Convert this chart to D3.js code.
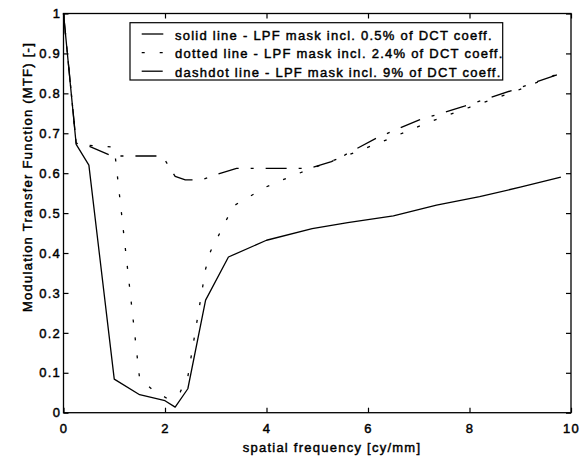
<!DOCTYPE html>
<html>
<head>
<meta charset="utf-8">
<script src="https://cdnjs.cloudflare.com/ajax/libs/d3/7.8.5/d3.min.js"></script>
<style>
    body { margin: 0; background: #ffffff; }
    text {
        font-family: "Liberation Sans", Arial, Helvetica, sans-serif;
        font-size: 13px;
        letter-spacing: 1.25px;
        fill: #000000;
        stroke: #000000;
        stroke-width: 0.45px;
    }
</style>
</head>
<body>
<div id="chart"></div>
<script>
//-------------------------------------------------------
// data
//-------------------------------------------------------
// solid line - 0.5% of DCT coeff.
const solidX = [0, 0.25, 0.5, 1.0, 1.5, 2.0, 2.2, 2.45, 2.8, 3.25, 4.0, 4.9, 5.6, 6.5, 7.35, 8.2, 9.0, 9.8];
const solidY = [1, 0.672, 0.62, 0.084, 0.045, 0.03, 0.014, 0.06, 0.282, 0.39, 0.432, 0.461, 0.476, 0.493, 0.52, 0.541, 0.565, 0.59];

// dotted line - 2.4% of DCT coeff.
const dottedX = [0, 0.25, 0.5, 1.0, 1.5, 1.75, 2.05, 2.3, 2.45, 2.8, 2.9, 3.35, 3.66, 4.0, 4.5, 5.0, 5.6, 6.3, 7.2, 8.0, 8.9, 9.8];
const dottedY = [1, 0.675, 0.67, 0.665, 0.085, 0.058, 0.035, 0.052, 0.09, 0.36, 0.405, 0.518, 0.541, 0.566, 0.593, 0.617, 0.645, 0.68, 0.728, 0.765, 0.805, 0.852];

// dashdot line - 9% of DCT coeff.
const dashdotX = [0, 0.25, 0.5, 0.95, 1.5, 1.95, 2.2, 2.4, 2.72, 3.12, 3.41, 4.0, 4.85, 5.28, 5.55, 6.2, 7.0, 7.9, 8.9, 9.8];
const dashdotY = [1, 0.675, 0.668, 0.643, 0.643, 0.643, 0.592, 0.583, 0.583, 0.601, 0.612, 0.612, 0.612, 0.629, 0.646, 0.69, 0.733, 0.768, 0.81, 0.85];

const legendLabels = [
    "solid line - LPF mask incl. 0.5% of DCT coeff.",
    "dotted line - LPF mask incl. 2.4% of DCT coeff.",
    "dashdot line - LPF mask incl. 9% of DCT coeff."
];

const xTicks = [0, 2, 4, 6, 8, 10];
const yTicks = [0, 0.1, 0.2, 0.3, 0.4, 0.5, 0.6, 0.7, 0.8, 0.9, 1];
const xTitle = "spatial frequency [cy/mm]";
const yTitle = "Modulation Transfer Function (MTF) [-]";

//-------------------------------------------------------
// properties
//-------------------------------------------------------
let properties = {
    width: 581,
    height: 458,
    plot: { left: 63.5, right: 571, top: 13.5, bottom: 412.7 },
    tick: 5,
    line: { width: 1.3 },
    dash: {
        solid: null,
        dotted: "3,15",
        dashdot: "21,12,3,12"
    },
    legend: { x: 130, y: 22.7, width: 372.7, height: 57.3, sampleX1: 141.7, sampleX2: 163.3, textX: 175, rowY: [39.5, 58.2, 76.7] },
    color: { black: "#000000", white: "#ffffff" }
}

const svg = d3.select("#chart")
    .append("svg")
    .attr("width", properties.width)
    .attr("height", properties.height)
    .style("background", properties.color.white);

const x = d3.scaleLinear()
    .domain([0, 10])
    .range([properties.plot.left, properties.plot.right]);

const y = d3.scaleLinear()
    .domain([0, 1])
    .range([properties.plot.bottom, properties.plot.top]);

//axes (ticks point inward, box drawn separately)
function styleAxis(g) {
    g.select(".domain").remove();
    g.selectAll(".tick line")
        .attr("stroke", properties.color.black)
        .attr("stroke-width", 1.2);
    g.selectAll(".tick text")
        .attr("fill", properties.color.black);
    g.attr("font-family", null).attr("font-size", null);
}

svg.append("g")
    .attr("transform", `translate(0,${properties.plot.bottom})`)
    .call(d3.axisBottom(x).tickValues(xTicks).tickSize(-properties.tick).tickPadding(10.6).tickFormat(d => d))
    .call(styleAxis);

svg.append("g")
    .attr("transform", `translate(0,${properties.plot.top})`)
    .call(d3.axisTop(x).tickValues(xTicks).tickSize(-properties.tick).tickFormat(""))
    .call(styleAxis);

svg.append("g")
    .attr("transform", `translate(${properties.plot.left},0)`)
    .call(d3.axisLeft(y).tickValues(yTicks).tickSize(-properties.tick).tickPadding(2.4).tickFormat(d => d))
    .call(styleAxis);

svg.append("g")
    .attr("transform", `translate(${properties.plot.right},0)`)
    .call(d3.axisRight(y).tickValues(yTicks).tickSize(-properties.tick).tickFormat(""))
    .call(styleAxis);

//box
svg.append("rect")
    .attr("x", properties.plot.left)
    .attr("y", properties.plot.top)
    .attr("width", properties.plot.right - properties.plot.left)
    .attr("height", properties.plot.bottom - properties.plot.top)
    .attr("fill", "none")
    .attr("stroke", properties.color.black)
    .attr("stroke-width", 1.3);

//series
const series = [
    { xs: solidX, ys: solidY, dash: properties.dash.solid },
    { xs: dottedX, ys: dottedY, dash: properties.dash.dotted },
    { xs: dashdotX, ys: dashdotY, dash: properties.dash.dashdot }
];

const line = d3.line()
    .x(d => x(d[0]))
    .y(d => y(d[1]));

svg.append("g")
    .attr("id", "lines")
    .selectAll("path")
    .data(series)
    .enter()
    .append("path")
    .attr("d", d => line(d.xs.map((v, i) => [v, d.ys[i]])))
    .attr("fill", "none")
    .attr("stroke", properties.color.black)
    .attr("stroke-width", properties.line.width)
    .attr("stroke-linejoin", "round")
    .attr("stroke-dasharray", d => d.dash);

//axis titles
svg.append("text")
    .attr("x", 332)
    .attr("y", 451.5)
    .attr("text-anchor", "middle")
    .text(xTitle);

svg.append("text")
    .attr("transform", "translate(32,177) rotate(-90)")
    .attr("text-anchor", "middle")
    .text(yTitle);

//legend
const legend = svg.append("g").attr("id", "legend");

legend.append("rect")
    .attr("x", properties.legend.x)
    .attr("y", properties.legend.y)
    .attr("width", properties.legend.width)
    .attr("height", properties.legend.height)
    .attr("fill", properties.color.white)
    .attr("stroke", properties.color.black)
    .attr("stroke-width", 1.2);

legend.selectAll("line")
    .data(series)
    .enter()
    .append("line")
    .attr("x1", properties.legend.sampleX1)
    .attr("x2", properties.legend.sampleX2)
    .attr("y1", (d, i) => properties.legend.rowY[i] - 5.5)
    .attr("y2", (d, i) => properties.legend.rowY[i] - 5.5)
    .attr("stroke", properties.color.black)
    .attr("stroke-width", properties.line.width)
    .attr("stroke-dasharray", d => d.dash);

legend.selectAll("text")
    .data(legendLabels)
    .enter()
    .append("text")
    .attr("x", properties.legend.textX)
    .attr("y", (d, i) => properties.legend.rowY[i])
    .text(d => d);
</script>
</body>
</html>
